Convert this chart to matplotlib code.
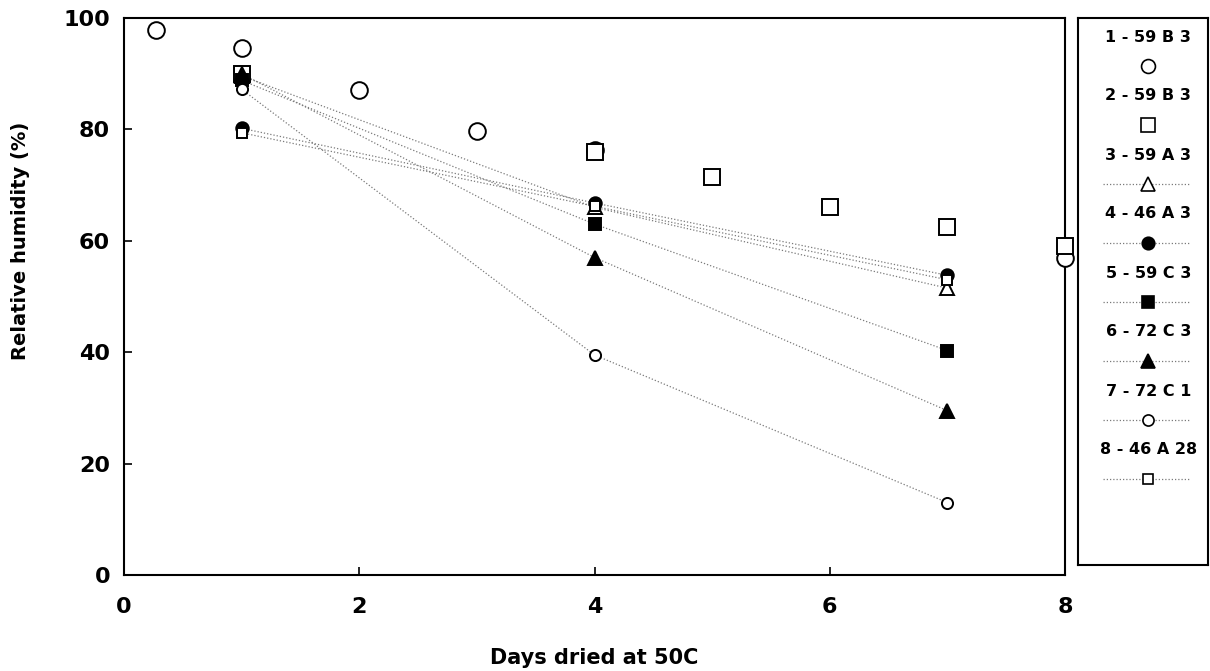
import numpy as np
import matplotlib.pyplot as plt

plt.rcParams['font.family'] = ['DejaVu Sans']
plt.rcParams['font.weight'] = 'bold'

# Relative humidity vs. days dried, eight samples
labels = ['1 - 59 B 3', '2 - 59 B 3', '3 - 59 A 3', '4 - 46 A 3',
          '5 - 59 C 3', '6 - 72 C 3', '7 - 72 C 1', '8 - 46 A 28']

days_1 = [0.27, 1, 2, 3, 4, 8]
rh_1 = [97.8, 94.6, 87.1, 79.7, 76.3, 56.9]

days_2 = [1, 4, 5, 6, 7, 8]
rh_2 = [90.0, 76.0, 71.5, 66.0, 62.5, 59.0]

days_short = [1, 4, 7]
rh_3 = [89.6, 66.0, 51.5]
rh_4 = [80.2, 66.8, 53.8]
rh_5 = [88.8, 63.0, 40.3]
rh_6 = [90.0, 57.0, 29.5]
rh_7 = [87.2, 39.5, 13.0]
rh_8 = [79.4, 66.2, 53.0]

W, H = 1210, 671
fig = plt.figure(figsize=(W / 100, H / 100), dpi=100)

def px_axes(l, t, r, b):
    return fig.add_axes([l / W, 1 - b / H, (r - l) / W, (b - t) / H])

ax = px_axes(124, 18, 1065, 575)

dot = (0, (1, 1.6))
lc = '#7a7a7a'

# marker styles: (marker, facecolor, size, has line)
styles = [
    ('o', 'white', 12, False),
    ('s', 'white', 11, False),
    ('^', 'white', 10, True),
    ('o', 'black', 9, True),
    ('s', 'black', 8, True),
    ('^', 'black', 10, True),
    ('o', 'white', 8, True),
    ('s', 'white', 7.5, True),
]

series = [(days_1, rh_1), (days_2, rh_2), (days_short, rh_3), (days_short, rh_4),
          (days_short, rh_5), (days_short, rh_6), (days_short, rh_7), (days_short, rh_8)]

for (xs, ys), (m, fc, ms, has_line) in zip(series, styles):
    if has_line:
        ax.plot(xs, ys, linestyle=dot, color=lc, linewidth=0.9, zorder=2)
    ax.plot(xs, ys, linestyle='none', marker=m, markersize=ms,
            markerfacecolor=fc, markeredgecolor='black', markeredgewidth=1.4,
            zorder=3, clip_on=False)

ax.set_xlim(0, 8)
ax.set_ylim(0, 100)
ax.set_xticks([0, 2, 4, 6, 8])
ax.set_yticks([0, 20, 40, 60, 80, 100])
ax.tick_params(axis='both', direction='in', length=6, width=1.2, labelsize=16)
ax.tick_params(axis='x', pad=16)
ax.tick_params(axis='y', pad=10)
for s in ax.spines.values():
    s.set_linewidth(1.5)

ax.set_xlabel('Days dried at 50C', fontsize=15, fontweight='bold', labelpad=22)
ax.set_ylabel('Relative humidity (%)', fontsize=14, fontweight='bold')
ax.yaxis.set_label_coords(-0.1, 0.6)

# legend panel: label text above each marker sample
lg = px_axes(1078, 18, 1208, 565)
lg.set_xlim(0, 1)
lg.set_ylim(547, 0)
lg.set_xticks([])
lg.set_yticks([])
for s in lg.spines.values():
    s.set_linewidth(1.5)

for i, (lab, (m, fc, ms, has_line)) in enumerate(zip(labels, styles)):
    ty = 19 + i * 59
    my = ty + 29
    lg.text(0.54, ty, lab, ha='center', va='center', fontsize=11.5, fontweight='bold')
    if has_line:
        lg.plot([0.19, 0.85], [my, my], linestyle=dot, color=lc, linewidth=0.9)
    lg.plot([0.54], [my], linestyle='none', marker=m, markersize=min(ms, 10),
            markerfacecolor=fc, markeredgecolor='black', markeredgewidth=1.2)

fig.savefig('out.png', dpi=100)
